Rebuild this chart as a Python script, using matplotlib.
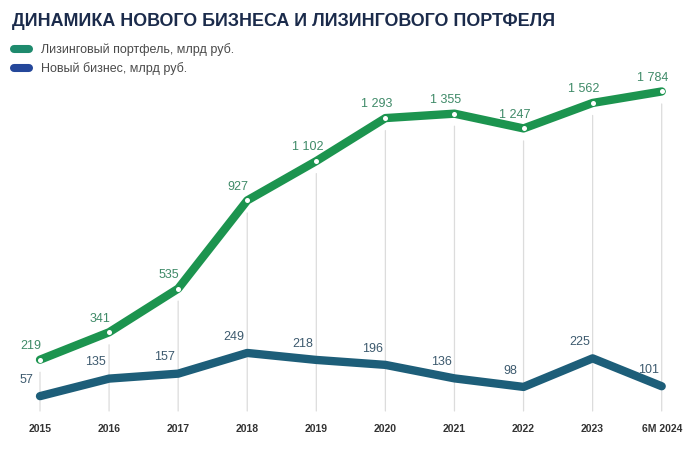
import matplotlib
matplotlib.use('Agg')
import matplotlib.pyplot as plt
import numpy as np
from matplotlib.lines import Line2D

plt.rcParams['font.family'] = ['Liberation Sans', 'DejaVu Sans']

# ---- data ----
categories = ['2015', '2016', '2017', '2018', '2019', '2020', '2021', '2022', '2023', '6M 2024']
portfolio = [219, 341, 535, 927, 1102, 1293, 1355, 1247, 1562, 1784]
new_business = [57, 135, 157, 249, 218, 196, 136, 98, 225, 101]
title = 'ДИНАМИКА НОВОГО БИЗНЕСА И ЛИЗИНГОВОГО ПОРТФЕЛЯ'
legend_labels = ['Лизинговый портфель, млрд руб.', 'Новый бизнес, млрд руб.']


def fmt(v):
    return f'{v:,}'.replace(',', ' ')


# ---- style ----
GREEN = '#1c944f'
BLUE = '#1d5e79'
GREEN_LBL = '#3f8a68'
BLUE_LBL = '#3d5a6e'
LEG_GREEN = '#1e8a6d'
LEG_BLUE = '#24479a'

fig = plt.figure(figsize=(7, 4.64), dpi=100)
ax = fig.add_axes([0, 52 / 464, 1, 352 / 464])

# compressed upper part of the value axis (as in the reference graphic)
KNEE, RATIO = 1300.0, 0.23


def fwd(y):
    y = np.asarray(y, float)
    return np.where(y <= KNEE, y, KNEE + (y - KNEE) * RATIO)


def inv(t):
    t = np.asarray(t, float)
    return np.where(t <= KNEE, t, KNEE + (t - KNEE) / RATIO)


ax.set_yscale('function', functions=(fwd, inv))
ybot = -9.0
ytop = float(inv(1555.6))
ax.set_ylim(ybot, ytop)

x = np.arange(len(categories))
ax.set_xlim(-40 / 69.08, len(categories) - 1 + 38.3 / 69.08)

# vertical guide lines up to (just below) the portfolio points
for xi, p in zip(x, portfolio):
    ax.annotate('', xy=(xi, p), xytext=(xi, ybot), xycoords='data',
                arrowprops=dict(arrowstyle='-', color='#dcdcdc', lw=0.9,
                                shrinkA=0, shrinkB=9),
                annotation_clip=False, zorder=1)

ax.plot(x, portfolio, color=GREEN, lw=6, solid_capstyle='round',
        solid_joinstyle='round', zorder=3)
ax.scatter(x, portfolio, s=13, color='white', zorder=4, linewidths=0)
ax.plot(x, new_business, color=BLUE, lw=6, solid_capstyle='round',
        solid_joinstyle='round', zorder=3)

for xi, v in zip(x, portfolio):
    ax.annotate(fmt(v), (xi, v), xytext=(-6.5, 10.5), textcoords='offset points',
                ha='center', va='center', fontsize=9, color=GREEN_LBL, zorder=5)
for xi, v in zip(x, new_business):
    ax.annotate(fmt(v), (xi, v), xytext=(-9.5, 12.5), textcoords='offset points',
                ha='center', va='center', fontsize=9, color=BLUE_LBL, zorder=5)

ax.set_xticks(x)
ax.set_xticklabels(categories, fontweight='bold')
ax.tick_params(axis='x', length=0, pad=8.5, labelsize=7.5, labelcolor='#333333')
ax.set_yticks([])
ax.yaxis.set_minor_locator(matplotlib.ticker.NullLocator())
for s in ax.spines.values():
    s.set_visible(False)
ax.patch.set_alpha(0)

# title
fig.text(12 / 700, 1 - 21.5 / 464, title, fontsize=12.9, fontweight='bold',
         color='#1b2b4b', va='center', ha='left')

# legend
for i, (lab, col) in enumerate(zip(legend_labels, [LEG_GREEN, LEG_BLUE])):
    yy = 1 - (49.5 + 19.5 * i) / 464
    fig.add_artist(Line2D([14 / 700, 29 / 700], [yy, yy], lw=5.8, color=col,
                          solid_capstyle='round', transform=fig.transFigure))
    fig.text(41 / 700, yy, lab, fontsize=9, color='#4a4a4a', va='center', ha='left')

fig.savefig('out.png', dpi=100, facecolor='white')
